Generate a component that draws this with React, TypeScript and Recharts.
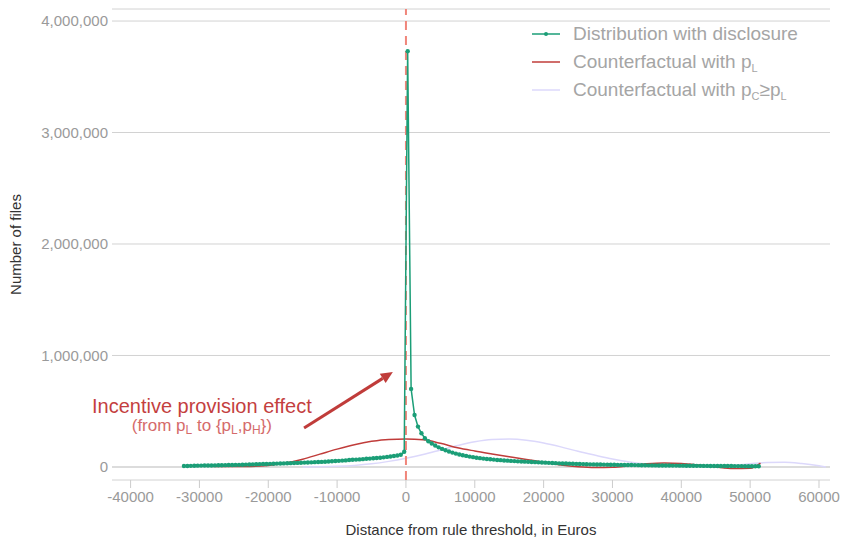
import { ComposedChart, Line, XAxis, YAxis, CartesianGrid, ReferenceLine, ReferenceDot } from 'recharts';

const TEAL = '#1b9e77';
const RED = '#c03c3a';
const LAVENDER = '#dcd8fb';
const FONT = '"Liberation Sans", Arial, sans-serif';

// files per 500-euro bin, from -32250 up to -250
const tealLeft = [
  8000, 9000, 10000, 11000, 11500, 12000, 12500, 13000, 13500, 14000, 15000, 15500, 16000,
  17000, 18000, 18500, 19000, 20000, 21000, 22000, 23000, 24000, 25000, 26000, 27000, 28000,
  29000, 30000, 31000, 32000, 33000, 34000, 35000, 36500, 38000, 39000, 40000, 41500, 43000,
  44000, 45500, 47000, 49000, 51000, 53000, 55000, 57000, 59000, 62000, 64000, 66000, 68000,
  70000, 73000, 75000, 78000, 80000, 83000, 86000, 90000, 94000, 98000, 103000, 110000, 136000,
];

// from 250 up to 51250
const tealRight = [
  3730000, 700000, 466000, 362000, 302000, 258000, 230000, 210000, 192000, 176000,
  162000, 150000, 139000, 129000, 120000, 112000, 105000, 99000, 93000, 88000,
  83000, 79000, 75000, 72000, 69000, 66000, 63000, 61000, 58500, 56500,
  54500, 52500, 50500, 49000, 47500, 46000, 44500, 43000, 41500, 40000,
  38500, 37000, 35500, 34000, 32500, 31500, 30500, 29500, 28500, 27500,
  26500, 25500, 24500, 23500, 23000, 22000, 21500, 21000, 20500, 20000,
  19500, 19000, 18500, 18000, 17500, 17000, 16500, 16000, 15500, 15000,
  14500, 14000, 14000, 13500, 13000, 13000, 12500, 12000, 12000, 11500,
  11500, 11000, 10500, 10500, 10000, 10000, 9500, 9500, 9000, 9000,
  8500, 8500, 8000, 8000, 8000, 7500, 7500, 7500, 7000, 7000,
  7000, 6500, 6500,
];

const firstBin = -32250;
const binWidth = 500;
const tealData = [...tealLeft, ...tealRight].map((files, i) => ({ x: firstBin + i * binWidth, files }));

const redX = [
  -32500, -30000, -27500, -25000, -22500, -20000, -17500, -15000, -12500, -10000, -7500, -5000, -2500,
  0, 2500, 5000, 7500, 10000, 12500, 15000, 17500, 20000, 22500, 25000, 27500, 30000,
  32500, 35000, 37500, 40000, 42500, 45000, 47500, 50000, 51500,
];
const redY = [
  10000, 8000, 5000, 3000, 5000, 14000, 35000, 70000, 115000, 160000, 200000, 230000, 247000,
  250000, 243000, 212000, 172000, 143000, 117000, 92000, 67000, 43000, 18000, 2000, -5000, -2000,
  12000, 28000, 36000, 32000, 18000, 0, -14000, -12000, 35000,
];
const redData = redX.map((x, i) => ({ x, files: redY[i] }));

const blueX = [
  -15000, -12500, -10000, -7500, -5000, -2500, 0, 2500, 5000, 7500, 10000, 12500, 15000, 17500,
  20000, 22500, 25000, 27500, 30000, 32500, 35000, 37500, 40000, 42500, 45000, 47500, 50000,
  52500, 55000, 57500, 60000, 61000,
];
const blueY = [
  0, 2000, 6000, 14000, 28000, 50000, 78000, 112000, 152000, 192000, 226000, 246000, 250000, 240000,
  215000, 180000, 140000, 105000, 72000, 45000, 26000, 14000, 8000, 6000, 8000, 15000, 28000,
  40000, 42000, 30000, 10000, 0,
];
const blueData = blueX.map((x, i) => ({ x, files: blueY[i] }));

const xTicks = [-40000, -30000, -20000, -10000, 0, 10000, 20000, 30000, 40000, 50000, 60000];
const yTicks = [0, 1000000, 2000000, 3000000, 4000000];

const Sub = ({ children }: { children: string }) => (
  <span style={{ fontSize: 11, position: 'relative', top: 4 }}>{children}</span>
);

const legendItems = [
  { color: TEAL, dot: true, label: <>Distribution with disclosure</> },
  { color: RED, dot: false, label: <>Counterfactual with p<Sub>L</Sub></> },
  { color: LAVENDER, dot: false, label: <>Counterfactual with p<Sub>C</Sub>≥p<Sub>L</Sub></> },
];

function ChartLegend() {
  return (
    <div style={{ position: 'absolute', top: 20, left: 530, fontFamily: FONT, fontSize: 19, color: '#a5a5a5' }}>
      {legendItems.map((it, i) => (
        <div key={i} style={{ display: 'flex', alignItems: 'center', height: 28 }}>
          <svg width={43} height={28}>
            <line x1={2} x2={30} y1={14} y2={14} stroke={it.color} strokeWidth={1.5} />
            {it.dot && <circle cx={16} cy={14} r={2} fill={it.color} />}
          </svg>
          <span>{it.label}</span>
        </div>
      ))}
    </div>
  );
}

const AnnotationText = (props: any) => {
  const { cx, cy } = props;
  return (
    <g fontFamily={FONT}>
      <text x={cx} y={cy - 1} textAnchor="middle" fontSize={20} fill="#c43f3f">
        Incentive provision effect
      </text>
      <text x={cx} y={cy + 17} textAnchor="middle" fontSize={17} fill="#d56b6b">
        (from p<tspan fontSize={12} dy={3}>L</tspan>
        <tspan dy={-3}> to {'{'}p</tspan>
        <tspan fontSize={12} dy={3}>L</tspan>
        <tspan dy={-3}>,p</tspan>
        <tspan fontSize={12} dy={3}>H</tspan>
        <tspan dy={-3}>{'})'}</tspan>
      </text>
    </g>
  );
};

const Arrow = (props: any) => {
  const { x1, y1, x2, y2 } = props;
  const ang = Math.atan2(y2 - y1, x2 - x1);
  const len = 12;
  const w = 5.5;
  const bx = x2 - len * Math.cos(ang);
  const by = y2 - len * Math.sin(ang);
  const pts = `${x2},${y2} ${bx + w * Math.sin(ang)},${by - w * Math.cos(ang)} ${bx - w * Math.sin(ang)},${by + w * Math.cos(ang)}`;
  return (
    <g>
      <line x1={x1} y1={y1} x2={bx} y2={by} stroke={RED} strokeWidth={3} />
      <polygon points={pts} fill={RED} />
    </g>
  );
};

export default function App() {
  return (
    <div style={{ position: 'absolute', left: 0, top: 0, fontFamily: FONT }}>
      <ComposedChart width={842} height={538} margin={{ top: 9, right: 12, bottom: 0, left: 0 }}>
        <CartesianGrid vertical={false} stroke="#d2d2d2" />
        <XAxis
          dataKey="x"
          type="number"
          domain={[-42700, 61600]}
          ticks={xTicks}
          allowDataOverflow
          axisLine={false}
          tickSize={8}
          tickMargin={3}
          tickLine={{ stroke: '#cccccc' }}
          tick={{ fill: '#9a9a9a', fontSize: 15 }}
          height={58}
          label={{ value: 'Distance from rule threshold, in Euros', position: 'insideBottom', offset: 3, fill: '#333333', fontSize: 15 }}
        />
        <YAxis
          type="number"
          domain={[-117000, 4108000]}
          ticks={yTicks}
          allowDataOverflow
          axisLine={false}
          tickLine={false}
          tickSize={0}
          tickMargin={4}
          width={112}
          tick={{ fill: '#9a9a9a', fontSize: 15 }}
          tickFormatter={(v: number) => v.toLocaleString('en-US')}
          label={{ value: 'Number of files', angle: -90, position: 'insideLeft', offset: 16, fill: '#333333', fontSize: 15, style: { textAnchor: 'middle' } }}
        />
        <ReferenceLine y={0} stroke="#dcdcdc" strokeWidth={2} />
        <Line data={blueData} dataKey="files" type="monotone" stroke={LAVENDER} strokeWidth={1.5} dot={false} isAnimationActive={false} />
        <Line data={redData} dataKey="files" type="monotone" stroke={RED} strokeWidth={1.5} dot={false} isAnimationActive={false} />
        <ReferenceLine x={0} stroke="#f0857a" strokeWidth={2} strokeDasharray="9 6" />
        <Line
          data={tealData}
          dataKey="files"
          type="linear"
          stroke={TEAL}
          strokeWidth={1.5}
          dot={{ r: 2.2, fill: TEAL, stroke: 'none' }}
          isAnimationActive={false}
        />
        <ReferenceLine
          segment={[{ x: -14800, y: 350000 }, { x: -1900, y: 852000 }]}
          shape={Arrow}
        />
        <ReferenceDot x={-29650} y={475000} shape={AnnotationText} />
      </ComposedChart>
      <ChartLegend />
    </div>
  );
}
